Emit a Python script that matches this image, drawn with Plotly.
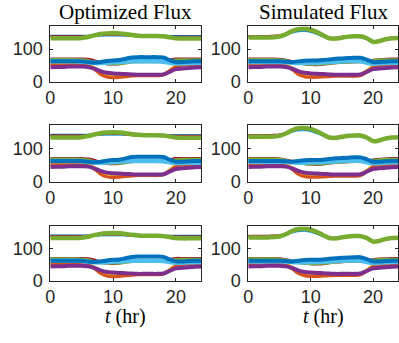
import plotly.graph_objects as go

W, H = 399, 343

t = list(range(25))

# ---------------- Optimized flux series ----------------
opt_top_cyan   = [140,140,140,140,140,140,140,140,141,141,141,141,141,140,140,140,140,140,140,139,139,139,139,139,139]
opt_top_blue   = [141,141,141,141,141,141,141,141,142,143,143,143,142,141,141,141,141,141,141,140,140,140,140,140,140]
opt_top_orange = [138,138,138,138,138,138,139,141,143,144,144,144,142,140,139,139,139,139,138,137,137,137,137,137,137]
opt_top_red    = [139,139,139,139,139,139,140,142,144,145,145,145,143,141,140,140,140,140,139,138,138,138,138,138,138]
opt_top_green  = [133,133,133,133,133,134,137,142,146,148,149,148,146,143,141,140,140,140,139,136,133,132,132,132,132]

opt_red    = [70,70,70,70,70,70,69,65,58,54,53,54,58,62,62,62,62,62,63,67,70,70,70,70,70]
opt_green  = [68,68,68,68,68,67,65,60,56,55,55,55,57,60,61,61,61,61,62,64,66,67,67,67,67]
opt_cyan   = [62,62,62,62,62,61,59,57,57,58,59,60,61,62,62,62,62,62,61,58,56,56,57,57,57]
opt_blue   = [62,62,62,62,62,62,60,58,60,63,65,66,70,74,75,75,75,75,74,66,60,60,61,62,62]
opt_yellow = [55,55,55,55,55,55,52,42,28,20,18,18,19,19,20,20,20,20,22,35,48,53,55,55,55]
opt_orange = [51,51,51,51,51,51,48,38,22,14,12,13,15,17,18,18,18,18,20,32,45,50,51,51,51]
opt_purple = [44,45,45,46,46,46,45,40,32,27,25,24,23,22,21,21,21,21,22,30,38,40,42,43,44]

# ---------------- Simulated flux series ----------------
sim_top_cyan   = [137,137,137,137,138,139,143,150,154,155,152,146,138,131,131,134,136,137,136,130,121,123,128,131,132]
sim_top_blue   = [138,138,138,138,139,140,144,151,156,157,154,147,139,132,132,135,137,138,137,131,122,124,129,132,133]
sim_top_orange = [139,139,139,139,140,141,146,153,158,159,156,149,140,133,133,136,138,139,138,132,123,125,130,133,134]
sim_top_red    = [140,140,140,140,141,142,147,154,159,160,157,150,141,134,134,137,139,140,139,133,124,126,131,134,135]
sim_top_green  = [135,135,135,135,136,138,145,155,161,162,159,152,142,133,132,135,138,139,139,133,122,124,130,133,134]

sim_red    = [70,70,70,70,70,69,66,62,57,54,52,51,52,55,57,58,59,60,61,63,66,68,69,70,70]
sim_green  = [68,68,68,68,68,67,64,60,56,54,53,53,54,56,58,59,60,61,61,62,64,66,67,67,67]
sim_cyan   = [60,60,60,60,60,60,59,58,57,57,58,58,59,60,61,62,63,63,62,58,55,56,57,58,58]
sim_blue   = [62,62,62,62,62,62,61,60,62,64,65,65,66,68,70,71,72,73,73,67,60,60,61,62,62]
sim_yellow = [55,55,55,55,55,55,52,42,28,22,20,20,20,20,20,20,20,20,22,34,47,52,54,55,55]
sim_orange = [51,51,51,51,51,51,48,37,22,15,13,13,14,15,16,16,16,16,18,30,44,49,50,51,51]
sim_purple = [44,45,45,46,46,46,45,40,32,27,25,24,23,22,21,21,21,21,22,30,38,40,42,43,44]

panel_titles = ["Optimized Flux", "Simulated Flux"]
x_ticks = [0, 10, 20]
y_ticks = [0, 100]
x_range = [0, 24]
y_range = [0, 170]

C_BLUE = "#0072BD"; C_ORANGE = "#D95319"; C_YELLOW = "#EDB120"; C_PURPLE = "#7E2F8E"
C_GREEN = "#77AC30"; C_CYAN = "#4DBEEE"; C_RED = "#A2142F"

def series_set(prefix):
    g = globals()
    return [
        (g[prefix + "_top_cyan"], C_CYAN, 2.0),
        (g[prefix + "_top_blue"], C_BLUE, 2.0),
        (g[prefix + "_top_orange"], C_ORANGE, 2.0),
        (g[prefix + "_top_red"], C_RED, 2.0),
        (g[prefix + "_top_green"], C_GREEN, 4.5),
        (g[prefix + "_red"], C_RED, 2.5),
        (g[prefix + "_green"], C_GREEN, 3.0),
        (g[prefix + "_yellow"], C_YELLOW, 3.0),
        (g[prefix + "_orange"], C_ORANGE, 3.0),
        (g[prefix + "_cyan"], C_CYAN, 4.5),
        (g[prefix + "_blue"], C_BLUE, 4.0),
        (g[prefix + "_purple"], C_PURPLE, 4.0),
    ]

fig = go.Figure()

xdom = [[46/W, 199/W], [247/W, 1.0]]
ydom = [[1-84/H, 1-27/H], [1-187/H, 1-129/H], [1-289/H, 1-233/H]]

axcolor = "#262626"
tickfont = dict(family="Liberation Sans", size=18, color=axcolor)

idx = 0
for r in range(3):
    for c in range(2):
        idx += 1
        xa = "x" if idx == 1 else f"x{idx}"
        ya = "y" if idx == 1 else f"y{idx}"
        prefix = "opt" if c == 0 else "sim"
        for vals, col, w in series_set(prefix):
            fig.add_trace(go.Scatter(x=t, y=vals, mode="lines",
                                     line=dict(color=col, width=w, shape="spline", smoothing=1.0),
                                     xaxis=xa, yaxis=ya, showlegend=False, hoverinfo="skip"))
        xkey = "xaxis" if idx == 1 else f"xaxis{idx}"
        ykey = "yaxis" if idx == 1 else f"yaxis{idx}"
        fig.layout[xkey] = dict(domain=xdom[c], anchor=ya, range=x_range, tickvals=x_ticks,
                                ticks="inside", ticklen=3, tickcolor=axcolor, showline=True,
                                linecolor=axcolor, linewidth=1, mirror="ticks", showgrid=False,
                                zeroline=False, tickfont=tickfont, ticklabelstandoff=0)
        fig.layout[ykey] = dict(domain=ydom[r], anchor=xa, range=y_range, tickvals=y_ticks,
                                ticks="inside", ticklen=3, tickcolor=axcolor, showline=True,
                                linecolor=axcolor, linewidth=1, mirror="ticks", showgrid=False,
                                zeroline=False, tickfont=tickfont, ticklabelstandoff=3)

annotations = []
for c in range(2):
    cx = (xdom[c][0] + xdom[c][1]) / 2
    annotations.append(dict(text=panel_titles[c], x=cx, y=1-12/H, xref="paper", yref="paper",
                            showarrow=False, xanchor="center", yanchor="middle",
                            font=dict(family="Liberation Serif", size=21, color="#000000")))
    annotations.append(dict(text="<i>t</i> (hr)", x=cx, y=1-326/H, xref="paper", yref="paper",
                            showarrow=False, xanchor="center", yanchor="middle",
                            font=dict(family="Liberation Serif", size=20, color="#000000")))

fig.update_layout(width=W, height=H, margin=dict(l=0, r=0, t=0, b=0),
                  paper_bgcolor="white", plot_bgcolor="white", annotations=annotations)

fig.write_html("out.html")
